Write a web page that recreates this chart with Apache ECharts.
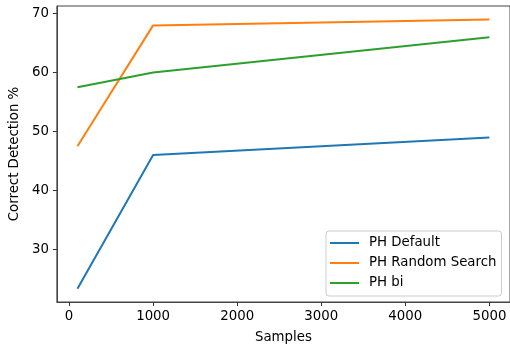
<!DOCTYPE html>
<html>
<head>
<meta charset="utf-8">
<script src="https://cdn.jsdelivr.net/npm/echarts@6/dist/echarts.min.js"></script>
<style>
  html, body { margin: 0; padding: 0; background: #fff; }
  #chart { width: 510px; height: 350px; }
</style>
</head>
<body>
<div id="chart"></div>
<script>
// Sample sizes used in each run
const samples = [100, 1000, 5000];
// Correct detection rates (%) per method
const phDefault = [23.3, 46, 49];
const phRandomSearch = [47.5, 68, 69];
const phBi = [57.5, 60, 66];
const seriesNames = ['PH Default', 'PH Random Search', 'PH bi'];
const xTicks = [0, 1000, 2000, 3000, 4000, 5000];
const yTicks = [30, 40, 50, 60, 70];

const colors = ['#1f77b4', '#ff7f0e', '#2ca02c'];
const font = 'DejaVu Sans';
const fs = 13.33;
const spine = '#444';

function pairs(vals) {
  return samples.map((s, i) => [s, vals[i]]);
}

const chart = echarts.init(document.getElementById('chart'), null, { renderer: 'canvas' });
chart.setOption({
  animation: false,
  backgroundColor: '#fff',
  grid: {
    left: 56, top: 6, right: -2, bottom: 48,
    show: true, borderColor: spine, borderWidth: 1, backgroundColor: 'transparent'
  },
  xAxis: {
    type: 'value',
    min: -145, max: 5245,
    name: 'Samples',
    nameLocation: 'middle',
    nameGap: 29,
    nameTextStyle: { fontFamily: font, fontSize: fs, color: '#000' },
    axisLine: { show: true, onZero: false, lineStyle: { color: spine, width: 1 } },
    splitLine: { show: false },
    axisTick: { show: true, length: 4, inside: false, customValues: xTicks, lineStyle: { color: '#333' } },
    axisLabel: {
      customValues: xTicks, fontFamily: font, fontSize: fs, color: '#000', margin: 8,
      formatter: v => String(v)
    }
  },
  yAxis: {
    type: 'value',
    min: 21.07, max: 71.29,
    name: 'Correct Detection %',
    nameLocation: 'middle',
    nameGap: 29,
    nameTextStyle: { fontFamily: font, fontSize: fs, color: '#000' },
    axisLine: { show: true, onZero: false, lineStyle: { color: spine, width: 1 } },
    splitLine: { show: false },
    axisTick: { show: true, length: 4, inside: false, customValues: yTicks, lineStyle: { color: '#333' } },
    axisLabel: {
      customValues: yTicks, fontFamily: font, fontSize: fs, color: '#000', margin: 8,
      formatter: v => String(v)
    }
  },
  legend: {
    orient: 'vertical',
    left: 326, top: 231,
    padding: [4, 5, 5, 4],
    itemGap: 4,
    itemWidth: 29,
    itemHeight: 2,
    icon: 'rect',
    backgroundColor: 'rgba(255,255,255,0.8)',
    borderColor: '#ccc',
    borderWidth: 1,
    borderRadius: 3,
    textStyle: { fontFamily: font, fontSize: fs, color: '#000', lineHeight: 16, padding: [0, 0, 0, 5] },
    data: seriesNames
  },
  series: [phDefault, phRandomSearch, phBi].map((vals, i) => ({
    name: seriesNames[i],
    type: 'line',
    data: pairs(vals),
    showSymbol: false,
    symbol: 'none',
    lineStyle: { color: colors[i], width: 2 },
    itemStyle: { color: colors[i] }
  }))
});
</script>
</body>
</html>
